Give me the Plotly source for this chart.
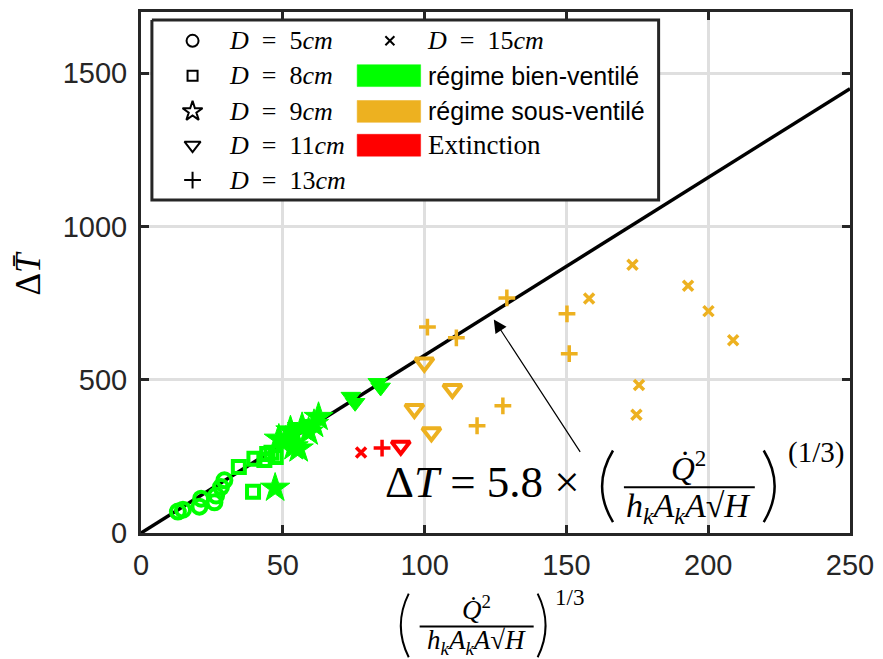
import plotly.graph_objects as go

# ---------------- data ----------------
GREEN = "#00FF00"
ORANGE = "#EDB120"
RED = "#FF0000"

# D = 5 cm (circles, bien-ventilé)
d5_x = [13, 14.8, 20.6, 21.2, 25.9, 26.5, 28.2, 29.4]
d5_y = [70, 76, 86, 112, 100, 122, 150, 172]
# D = 8 cm (squares, bien-ventilé)
d8_x = [34.5, 39.5, 40, 43.5, 44.5, 46, 47.5]
d8_y = [215, 135, 242, 238, 258, 262, 248]
# D = 9 cm (stars, bien-ventilé)
d9_x = [47.3, 48.6, 50.9, 52.7, 53.8, 55.6, 56.8, 59.1, 61, 62.6]
d9_y = [147, 307, 300, 334, 282, 275, 345, 330, 355, 378]
# D = 11 cm (triangles)
d11_bv_x = [74, 75.5, 83.5, 84.5]
d11_bv_y = [445, 425, 490, 475]
d11_sv_x = [99.9, 109.8, 96.4, 102.4]
d11_sv_y = [556, 470, 405, 329]
d11_ex_x = [91.6]
d11_ex_y = [285]
# D = 13 cm (plus)
d13_sv_x = [101, 111.2, 129, 150.2, 151, 127.6, 118.5]
d13_sv_y = [672, 637, 767, 715, 585, 415, 350]
d13_ex_x = [85]
d13_ex_y = [277]
# D = 15 cm (x)
d15_sv_x = [173.3, 158, 192.9, 200.1, 208.8, 175.6, 174.7]
d15_sv_y = [875, 765, 807, 724, 629, 483, 386]
d15_ex_x = [77.6]
d15_ex_y = [263]

# correlation line  dT = 5.8 * X
fit_x = [0, 250]
fit_y = [0, 1450]

x_ticks = [0, 50, 100, 150, 200, 250]
y_ticks = [0, 500, 1000, 1500]

EQ = "\u2002=\u2002"
legend_labels = ["<i>D</i>" + EQ + "5<i>cm</i>", "<i>D</i>" + EQ + "8<i>cm</i>",
                 "<i>D</i>" + EQ + "9<i>cm</i>", "<i>D</i>" + EQ + "11<i>cm</i>",
                 "<i>D</i>" + EQ + "13<i>cm</i>", "<i>D</i>" + EQ + "15<i>cm</i>"]
regime_labels = ["régime bien-ventilé", "régime sous-ventilé", "Extinction"]
regime_colors = [GREEN, ORANGE, RED]

# ---------------- layout geometry (pixels) ----------------
W, H = 883, 659
L, R, T, B = 141, 856, 9, 533
AX = "#262626"
SERIF = "Liberation Serif"
SANS = "Liberation Sans"


def px(x):
    return (x - L) / (R - L)


def py(y):
    return (B - y) / (B - T)


fig = go.Figure()


def add_pts(x, y, symbol, color, size, lw):
    fig.add_trace(go.Scatter(
        x=x, y=y, mode="markers", showlegend=False, hoverinfo="skip", cliponaxis=False,
        marker=dict(symbol=symbol, size=size, color=color,
                    line=dict(color=color, width=lw))))


# fit line
fig.add_trace(go.Scatter(x=fit_x, y=fit_y, mode="lines", showlegend=False,
                         line=dict(color="black", width=3.5), hoverinfo="skip"))

add_pts(d5_x, d5_y, "circle-open", GREEN, 14, 4)
add_pts(d8_x, d8_y, "square-open", GREEN, 12, 4)
add_pts(d9_x, d9_y, "star", GREEN, 22, 1)
add_pts(d11_bv_x, d11_bv_y, "triangle-down", GREEN, 17, 1)
add_pts(d11_sv_x, d11_sv_y, "triangle-down-open", ORANGE, 16, 4)
add_pts(d11_ex_x, d11_ex_y, "triangle-down-open", RED, 16, 4)
add_pts(d13_sv_x, d13_sv_y, "cross-thin", ORANGE, 12, 3.5)
add_pts(d13_ex_x, d13_ex_y, "cross-thin", RED, 12, 3.5)
add_pts(d15_sv_x, d15_sv_y, "x-thin", ORANGE, 10, 3.5)
add_pts(d15_ex_x, d15_ex_y, "x-thin", RED, 10, 3.5)

# ---------------- custom legend (overlay axes in pixel units) ----------------
lx0, lx1, ly0, ly1 = 152, 663, 17, 198
fig.add_trace(go.Scatter(x=[lx0, lx1, lx1, lx0, lx0], y=[ly0, ly0, ly1, ly1, ly0],
                         xaxis="x2", yaxis="y2", mode="lines", fill="toself",
                         fillcolor="white", line=dict(color=AX, width=3),
                         showlegend=False, hoverinfo="skip"))
rows = [38, 73, 109, 143, 178]
sym_leg = ["circle-open", "square-open", "star-open", "triangle-down-open", "cross-thin", "x-thin"]
size_leg = [12, 10, 15, 14, 12, 9]
pos_leg = [(193, rows[0]), (193, rows[1]), (193, rows[2]), (193, rows[3]), (193, rows[4]), (392, rows[0])]
for s, sz, (mx, my) in zip(sym_leg, size_leg, pos_leg):
    fig.add_trace(go.Scatter(x=[mx], y=[my], xaxis="x2", yaxis="y2", mode="markers",
                             marker=dict(symbol=s, size=sz, color="black",
                                         line=dict(color="black", width=2)),
                             showlegend=False, hoverinfo="skip"))
for c, ry in zip(regime_colors, rows[1:4]):
    fig.add_trace(go.Scatter(x=[359, 423, 423, 359, 359], y=[ry - 11, ry - 11, ry + 11, ry + 11, ry - 11],
                             xaxis="x2", yaxis="y2", mode="lines", fill="toself",
                             fillcolor=c, line=dict(color=c, width=0.5),
                             showlegend=False, hoverinfo="skip"))

annotations = []


def txt(x, y, s, size, font=SERIF, xanchor="center", yanchor="middle", angle=0):
    annotations.append(dict(x=px(x), y=py(y), xref="paper", yref="paper", text=s,
                            showarrow=False, xanchor=xanchor, yanchor=yanchor,
                            textangle=angle,
                            font=dict(family=font, size=size, color="black")))


for lab, (mx, my) in zip(legend_labels, pos_leg):
    txt(mx + 35, my, lab, 26, xanchor="left")
txt(428, rows[1], regime_labels[0], 25, font=SANS, xanchor="left")
txt(428, rows[2], regime_labels[1], 25, font=SANS, xanchor="left")
txt(428, rows[3], regime_labels[2], 27, font=SERIF, xanchor="left")

# ---------------- equation annotation ----------------
txt(385, 482, "Δ<i>T</i> = 5.8 ×", 45, xanchor="left")
txt(693, 466, "<i>Q\u0307</i><sup>2</sup>", 33)
txt(693, 508, "<i>h</i><sub><i>k</i></sub><i>A</i><sub><i>k</i></sub><i>A</i>√<i>H</i>", 34)
txt(822, 452, "(1/3)", 29)

# x-axis title
txt(479, 608, "<i>Q\u0307</i><sup>2</sup>", 27)
txt(479, 643, "<i>h</i><sub><i>k</i></sub><i>A</i><sub><i>k</i></sub><i>A</i>√<i>H</i>", 27)
txt(573, 598, "1/3", 23)

# y-axis title
txt(28, 271, "Δ<i>T\u0304</i>", 35, angle=-90)

# arrow
annotations.append(dict(x=124.4, y=697, ax=155.2, ay=260, xref="x", yref="y",
                        axref="x", ayref="y", showarrow=True, arrowhead=2,
                        arrowsize=2.2, arrowwidth=1.2, arrowcolor="black", text=""))

shapes = []


def pline(x0, y0, x1, y1, w=2):
    shapes.append(dict(type="line", xref="paper", yref="paper", x0=px(x0), y0=py(y0),
                       x1=px(x1), y1=py(y1), line=dict(color="black", width=w)))


def paren(xe, xm, y0, y1, w=2):
    path = "M {} {} Q {} {} {} {}".format(px(xe), py(y0), px(xm), py((y0 + y1) / 2), px(xe), py(y1))
    shapes.append(dict(type="path", xref="paper", yref="paper", path=path,
                       line=dict(color="black", width=w)))


# equation fraction
pline(628, 487, 760, 487, 2.2)
paren(617, 595, 450, 522, 2.5)
paren(769, 791, 450, 522, 2.5)
# x-title fraction
pline(422, 627, 537, 627, 2)
paren(411, 395, 594, 658, 2)
paren(541, 557, 594, 658, 2)

axis_common = dict(showline=True, linecolor=AX, linewidth=3, mirror="ticks",
                   ticks="inside", ticklen=8, tickwidth=3, tickcolor=AX,
                   showgrid=True, gridcolor="#dfdfdf", gridwidth=2.5, zeroline=False,
                   tickfont=dict(family=SANS, size=29, color=AX))

fig.update_layout(
    width=W, height=H, margin=dict(l=L, r=W - R, t=T, b=H - B),
    paper_bgcolor="white", plot_bgcolor="white", showlegend=False,
    xaxis=dict(range=[0, 250], tickvals=x_ticks, ticklabelstandoff=4, **axis_common),
    yaxis=dict(range=[0, 1700], tickvals=y_ticks, ticklabelstandoff=5, **axis_common),
    xaxis2=dict(range=[L, R], overlaying="x", visible=False, fixedrange=True),
    yaxis2=dict(range=[B, T], overlaying="y", visible=False, fixedrange=True),
    annotations=annotations, shapes=shapes,
)

fig.write_html("out.html", config={"displayModeBar": False},
               post_script="document.body.style.margin='0';document.body.style.overflow='hidden';")
